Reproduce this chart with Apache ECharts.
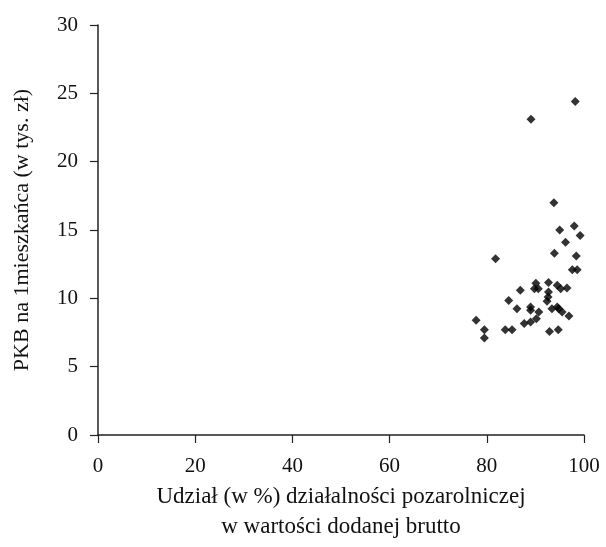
<!DOCTYPE html>
<html>
<head>
<meta charset="utf-8">
<script src="https://cdn.jsdelivr.net/npm/echarts@6/dist/echarts.min.js"></script>
<style>
  html, body { margin: 0; padding: 0; background: #fff; }
  #chart { width: 606px; height: 547px; }
</style>
</head>
<body>
<div id="chart"></div>
<script>
// share of non-agricultural activity in gross value added (%)
const udzial = [
    89.1, 98.2,
    93.8, 95.0, 98.0, 99.2, 96.2, 81.8, 93.9, 98.4, 97.6, 98.6,
    86.9, 90.1, 89.8, 90.6, 92.7, 94.5, 95.2, 96.5,
    92.7, 92.6, 92.4, 84.5, 86.2, 89.0, 89.0, 90.7,
    93.4, 94.5, 94.8, 95.5, 96.9, 90.2, 89.0,
    77.8, 87.7, 79.5, 83.8, 85.2, 92.9, 94.7, 79.5
]
// GDP per capita (thousand zl)
const pkb = [
    23.1, 24.4,
    17.0, 15.0, 15.3, 14.6, 14.1, 12.9, 13.3, 13.1, 12.1, 12.1,
    10.6, 11.1, 10.7, 10.7, 11.15, 10.95, 10.7, 10.75,
    10.46, 10.1, 9.78, 9.85, 9.24, 9.36, 9.12, 9.0,
    9.24, 9.36, 9.24, 9.0, 8.7, 8.5, 8.26,
    8.4, 8.15, 7.7, 7.7, 7.7, 7.58, 7.7, 7.1
]
const xTicks = [0, 20, 40, 60, 80, 100]
const yTicks = [0, 5, 10, 15, 20, 25, 30]

const font = '"Liberation Serif", "DejaVu Serif", serif'
const axisCommon = {
    axisLine: { show: true, lineStyle: { color: '#222', width: 1.5 } },
    axisTick: { show: true, length: 8, lineStyle: { color: '#222', width: 1.2 } },
    splitLine: { show: false },
    axisLabel: { color: '#111', fontSize: 21, fontFamily: font },
    nameTextStyle: { color: '#111', fontSize: 22, fontFamily: font, lineHeight: 30 }
}

const chart = echarts.init(document.getElementById('chart'))
chart.setOption({
    animation: false,
    backgroundColor: '#fff',
    grid: { left: 98, right: 22, top: 25, bottom: 112, outerBoundsMode: 'none', containLabel: false },
    xAxis: {
        ...axisCommon,
        type: 'value',
        min: xTicks[0],
        max: xTicks[xTicks.length - 1],
        interval: 20,
        axisLabel: { ...axisCommon.axisLabel, margin: 21 },
        name: 'Udział (w %) działalności pozarolniczej\nw wartości dodanej brutto',
        nameLocation: 'middle',
        nameGap: 38,
        nameTextStyle: { ...axisCommon.nameTextStyle, fontSize: 23 }
    },
    yAxis: {
        ...axisCommon,
        type: 'value',
        min: yTicks[0],
        max: yTicks[yTicks.length - 1],
        interval: 5,
        axisLabel: { ...axisCommon.axisLabel, margin: 20 },
        name: 'PKB na 1mieszkańca (w tys. zł)',
        nameLocation: 'middle',
        nameGap: 61
    },
    series: [{
        type: 'scatter',
        symbol: 'diamond',
        symbolSize: 9,
        itemStyle: { color: '#000' },
        data: udzial.map((x, i) => [x, pkb[i]])
    }]
})
</script>
</body>
</html>
